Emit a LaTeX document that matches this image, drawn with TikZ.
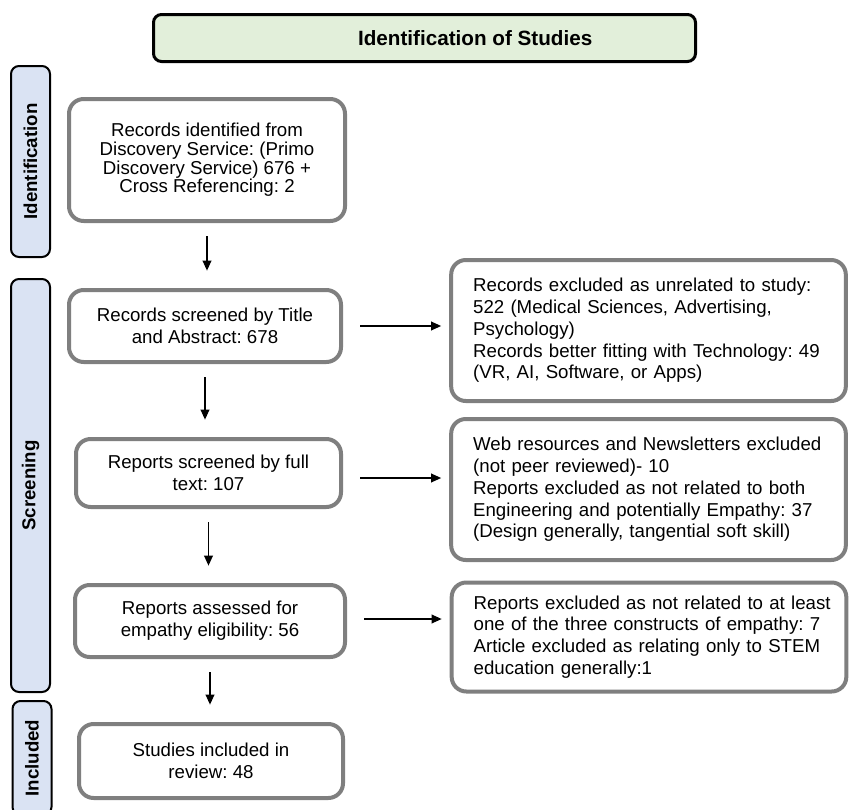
\documentclass[tikz,border=0pt]{standalone}
\usepackage{fontspec}
\setmainfont{Liberation Sans}
\usepackage{tikz}
\usetikzlibrary{arrows.meta,positioning,calc}
\definecolor{boxgray}{HTML}{7F7F7F}
\definecolor{stageblue}{HTML}{DAE3F3}
\definecolor{titlegreen}{HTML}{E2EFDA}
\frenchspacing

\begin{document}
\begin{tikzpicture}[
    x=0.75pt, y=-0.75pt,
    stage/.style={draw=black, line width=1.5pt, rounded corners=6pt,
                  fill=stageblue, rotate=90, minimum height=29.25pt,
                  inner sep=0pt, font=\fontsize{14pt}{16pt}\selectfont\bfseries},
    flowbox/.style={draw=boxgray, line width=3pt, rounded corners=11pt,
                    fill=white, align=center, inner sep=2pt,
                    font=\fontsize{14pt}{16.3pt}\selectfont},
    exclbox/.style={flowbox, align=left, text width=263pt, inner xsep=16.5pt,
                    minimum width=296pt},
    arr/.style={-{Triangle[length=7.5pt,width=6.5pt]}, line width=1.1pt, black},
    varr/.style={arr, shorten <=10pt, shorten >=13pt},
    harr/.style={arr, shorten <=13pt, shorten >=6pt}
  ]
    \useasboundingbox (0,0) rectangle (851,810);

    % === Title ===
    \node[draw=black, line width=2.25pt, rounded corners=6pt, fill=titlegreen,
          minimum width=406.5pt, minimum height=35.25pt,
          font=\fontsize{15.5pt}{18pt}\selectfont\bfseries]
      (title) at (424.5,38) {\hspace*{76pt}Identification of Studies};

    % === Stages ===
    \node[stage, minimum width=143.25pt] (ident) at (30.5,161.5) {Identification};
    \node[stage, minimum width=309.75pt] (screen) at (30.5,485.5) {Screening};
    \node[stage, minimum width=85.5pt] (incl) at (32,758) {Included};

    % === Main flow ===
    \node[flowbox, minimum width=207pt, minimum height=91.5pt,
          font=\fontsize{14pt}{14pt}\selectfont]
      (found) at (207,160)
      {Records identified from\\Discovery Service: (Primo\\Discovery Service) 676 +\\Cross Referencing: 2};
    \node[flowbox, minimum width=204pt, minimum height=54pt]
      (titleabs) at (205,326) {Records screened by Title\\and Abstract: 678};
    \node[flowbox, minimum width=198.75pt, minimum height=51pt]
      (fulltext) at (208.5,473) {Reports screened by full\\text: 107};
    \node[flowbox, minimum width=202.5pt, minimum height=54pt]
      (assess) at (210,621) {Reports assessed for\\empathy eligibility: 56};
    \node[flowbox, minimum width=198pt, minimum height=55.5pt]
      (studies) at (211,761) {Studies included in\\review: 48};

    \draw[varr] (found.south) -- (found.south |- titleabs.north);
    \draw[varr] (titleabs.south) -- (titleabs.south |- fulltext.north);
    \draw[varr] (fulltext.south) -- (fulltext.south |- assess.north);
    \draw[varr] (assess.south) -- (assess.south |- studies.north);

    % === Exclusions ===
    \node[exclbox, minimum height=105.75pt] (excl1) at (648.5,330.5)
      {Records excluded as unrelated to study:\\522 (Medical Sciences, Advertising,\\Psychology)\\Records better fitting with Technology: 49\\(VR, AI, Software, or Apps)};
    \node[exclbox, minimum height=105.75pt] (excl2) at (648.5,489.5)
      {Web resources and Newsletters excluded\\(not peer reviewed)- 10\\Reports excluded as not related to both\\Engineering and potentially Empathy: 37\\(Design generally, tangential soft skill)};
    \node[exclbox, minimum height=81.75pt] (excl3) at (649,637)
      {\mbox{Reports excluded as not related to at least}\\one of the three constructs of empathy: 7\\Article excluded as relating only to STEM\\education generally:1};

    \draw[harr] (titleabs.east) -- (titleabs.east -| excl1.west);
    \draw[harr] ([yshift=-3.75pt]fulltext.east) -- ([yshift=-3.75pt]fulltext.east -| excl2.west);
    \draw[harr] ([yshift=1.5pt]assess.east) -- ([yshift=1.5pt]assess.east -| excl3.west);
\end{tikzpicture}
\end{document}
